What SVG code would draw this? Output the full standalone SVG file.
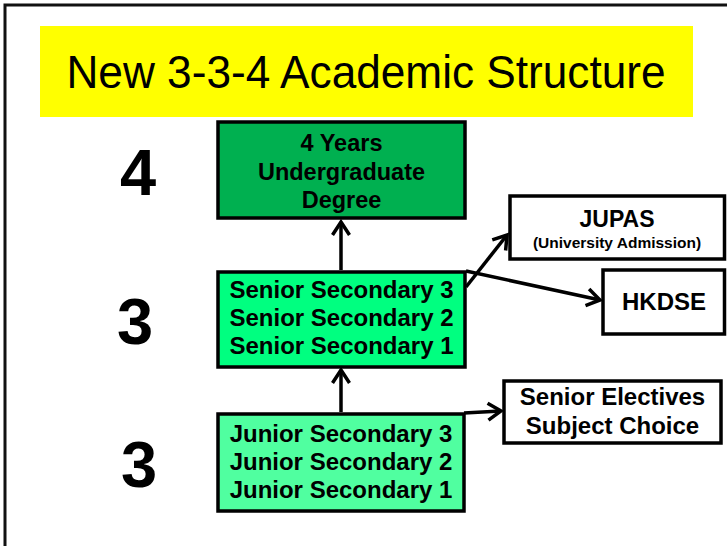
<svg xmlns="http://www.w3.org/2000/svg" width="727" height="546" viewBox="0 0 727 546">
  <style>
    .t { font-family: "Liberation Sans", Arial, sans-serif; fill: #000; }
    .b { font-weight: bold; text-anchor: middle; }
    .box { stroke: #000; stroke-width: 3.5; }
    .conn { fill: none; stroke: #000; stroke-width: 3.5; marker-end: url(#arr); }
  </style>
  <defs>
    <marker id="arr" markerUnits="userSpaceOnUse" viewBox="-18 -12 22 24" markerWidth="22" markerHeight="24" refX="0" refY="0" orient="auto">
      <path d="M-13,-8.5 L0,0 L-13,8.5" fill="none" stroke="#000" stroke-width="3.5" stroke-linejoin="miter"/>
    </marker>
  </defs>
  <rect x="0" y="0" width="727" height="546" fill="#fff"/>
  <rect x="5" y="5" width="740" height="560" fill="none" stroke="#111" stroke-width="3"/>

  <g id="title">
    <rect x="40" y="26" width="653" height="91" fill="#ffff00"/>
    <text class="t" transform="translate(366,88) scale(0.94,1)" x="0" y="0" font-size="47" text-anchor="middle">New 3-3-4 Academic Structure</text>
  </g>

  <g id="num4"><text class="t b" x="138" y="195" font-size="65">4</text></g>
  <g id="num3a"><text class="t b" x="135" y="344" font-size="65">3</text></g>
  <g id="num3b"><text class="t b" x="139" y="487" font-size="65">3</text></g>

  <g id="connectors">
    <path class="conn" d="M341,270 L341,222"/>
    <path class="conn" d="M341,412 L341,370"/>
    <path class="conn" d="M466,287 L507,235"/>
    <path class="conn" d="M466,271 L600,300"/>
    <path class="conn" d="M464,413 L501,411"/>
  </g>

  <g id="degree">
    <rect class="box" x="218" y="122" width="247" height="96" fill="#00b050"/>
    <text class="t b" x="341.5" y="151" font-size="23.5">4 Years</text>
    <text class="t b" x="341.5" y="179.5" font-size="23.5">Undergraduate</text>
    <text class="t b" x="341.5" y="208" font-size="23.5">Degree</text>
  </g>

  <g id="senior">
    <rect class="box" x="218" y="272" width="247" height="95" fill="#00ff80"/>
    <text class="t b" x="341.5" y="298" font-size="24">Senior Secondary 3</text>
    <text class="t b" x="341.5" y="326" font-size="24">Senior Secondary 2</text>
    <text class="t b" x="341.5" y="354" font-size="24">Senior Secondary 1</text>
  </g>

  <g id="junior">
    <rect class="box" x="218" y="414" width="246" height="97" fill="#50ffa0"/>
    <text class="t b" x="341" y="442" font-size="24">Junior Secondary 3</text>
    <text class="t b" x="341" y="470" font-size="24">Junior Secondary 2</text>
    <text class="t b" x="341" y="498" font-size="24">Junior Secondary 1</text>
  </g>

  <g id="jupas">
    <rect class="box" x="510" y="196" width="214.5" height="63" fill="#fff"/>
    <text class="t b" x="617" y="227" font-size="23">JUPAS</text>
    <text class="t b" x="617" y="248" font-size="15.5">(University Admission)</text>
  </g>

  <g id="hkdse">
    <rect class="box" x="603" y="270" width="121.5" height="64" fill="#fff"/>
    <text class="t b" x="664" y="310" font-size="24">HKDSE</text>
  </g>

  <g id="electives">
    <rect class="box" x="504" y="381" width="217" height="62" fill="#fff"/>
    <text class="t b" x="612.5" y="405" font-size="24">Senior Electives</text>
    <text class="t b" x="612.5" y="434" font-size="24">Subject Choice</text>
  </g>
</svg>
